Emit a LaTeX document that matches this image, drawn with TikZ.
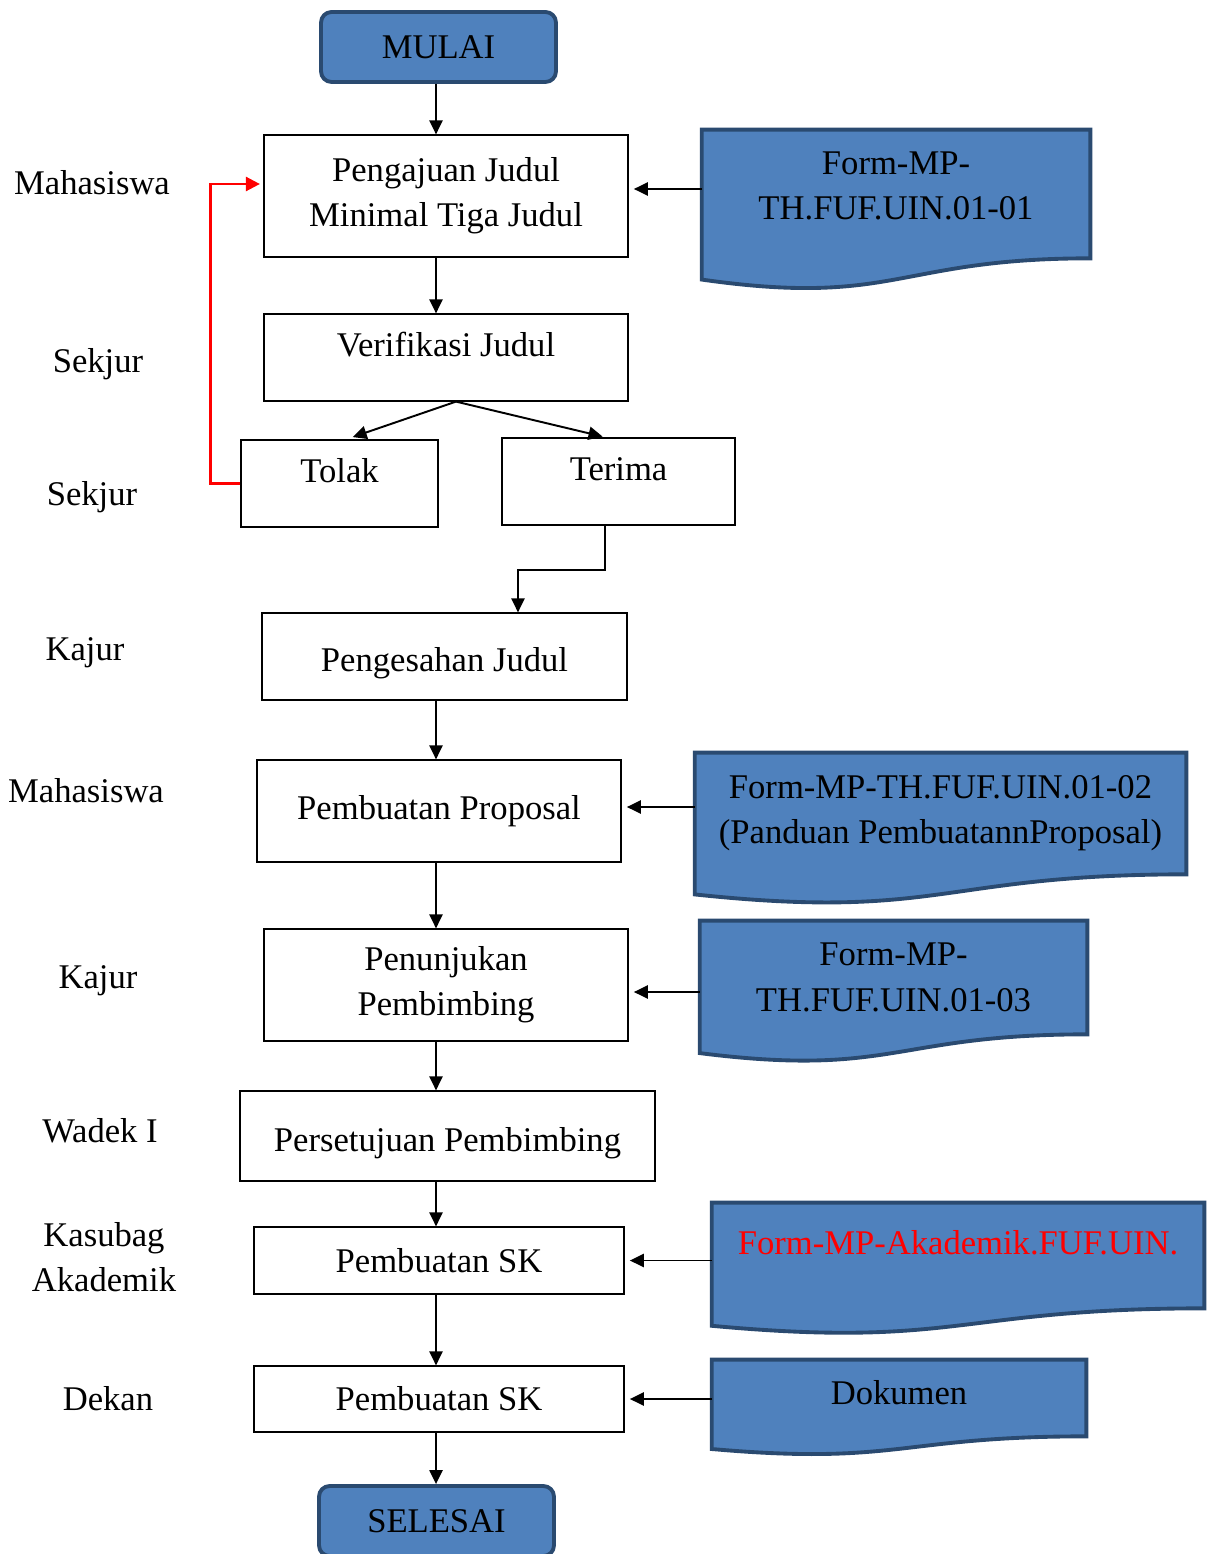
\documentclass[tikz,border=0pt]{standalone}
\usepackage{fontspec}
\setmainfont{Liberation Serif}
\usetikzlibrary{arrows.meta,calc,backgrounds}
\definecolor{docblue}{HTML}{4F81BD}
\definecolor{docedge}{HTML}{2A4A70}

\begin{document}
\begin{tikzpicture}
	[x=0.02cm, y=-0.02cm, every node/.style={font=\fontsize{19.7}{25.8}\selectfont},
	block/.style={rectangle, draw, line width=0.7pt, inner sep=0pt, align=center},
	ends/.style={rectangle, rounded corners=6pt, draw=docedge, fill=docblue, line width=2.2pt, minimum width=4.7cm, minimum height=1.4cm},
	doc/.style={rectangle, inner sep=0pt, align=center},
	docline/.style={draw=docedge, fill=docblue, line width=2.2pt},
	uptext/.style={text height=6.9pt, text depth=7.6pt},
	lowtext/.style={text height=21.5pt, text depth=4.3pt},
	arr/.style={-{Triangle[length=8pt,width=7.5pt]}, line width=1.1pt},
	back/.style={-{Triangle[length=8pt,width=8pt]}, line width=1.4pt, red}]
	\useasboundingbox (0,0) rectangle (1210,1554);
	\coordinate (spine) at (436,0);

	\node[ends] (mulai) at (438.5,47) {MULAI};
	\node[block, minimum width=7.28cm, minimum height=2.44cm] (b1) at (446,196) {Pengajuan Judul\\Minimal Tiga Judul};
	\node[block, uptext, minimum width=7.28cm, minimum height=1.74cm] (b2) at (446,357.5) {Verifikasi Judul};
	\node[block, uptext, minimum width=3.94cm, minimum height=1.74cm] (tolak) at (339.5,483.5) {Tolak};
	\node[block, uptext, minimum width=4.66cm, minimum height=1.74cm] (terima) at (618.5,481.5) {Terima};
	\node[block, lowtext, minimum width=7.30cm, minimum height=1.74cm] (sah) at (444.5,656.5) {Pengesahan Judul};
	\node[block, minimum width=7.28cm, minimum height=2.04cm] (prop) at (439,811) {Pembuatan Proposal};
	\node[block, minimum width=7.28cm, minimum height=2.24cm] (tunjuk) at (446,985) {Penunjukan\\Pembimbing};
	\node[block, lowtext, minimum width=8.30cm, minimum height=1.80cm] (setuju) at (447.5,1136) {Persetujuan Pembimbing};
	\node[block, minimum width=7.40cm, minimum height=1.34cm] (sk1) at (439,1260.5) {Pembuatan SK};
	\node[block, minimum width=7.40cm, minimum height=1.32cm] (sk2) at (439,1399) {Pembuatan SK};
	\node[ends] (selesai) at (436.5,1521) {SELESAI};

	\node[doc, text depth=9.6pt, minimum width=7.76cm, minimum height=2.56cm] (d1) at (896,194) {Form-MP-\\TH.FUF.UIN.01-01};
	\node[doc, minimum width=9.82cm, minimum height=2.42cm] (d2) at (940.5,813.5) {Form-MP-TH.FUF.UIN.01-02\\(Panduan PembuatannProposal)};
	\node[doc, minimum width=7.74cm, minimum height=2.26cm] (d3) at (893.5,977.5) {Form-MP-\\TH.FUF.UIN.01-03};
	\node[doc, uptext, text=red, minimum width=9.84cm, minimum height=2.10cm] (d4) at (958,1255.5) {Form-MP-Akademik.FUF.UIN.};
	\node[doc, text depth=5.8pt, minimum width=7.48cm, minimum height=1.52cm] (d5) at (899,1398) {Dokumen};
	\begin{scope}[on background layer]
		\foreach \d in {d1,d2,d3,d4,d5}
			\draw[docline] (\d.north west) -- (\d.north east) -- (\d.south east) .. controls (\d.south) and ($(\d.north)!1.38!(\d.south)$) .. ($(\d.north west)!1.165!(\d.south west)$) -- cycle;
	\end{scope}

	\node (l1) at (92,183) {Mahasiswa};
	\node (l2) at (98,364) {Sekjur};
	\node (l3) at (92,497) {Sekjur};
	\node (l4) at (85,653) {Kajur};
	\node (l5) at (86,791) {Mahasiswa};
	\node (l6) at (98,981) {Kajur};
	\node (l7) at (100,1131) {Wadek I};
	\node[align=center] (l8) at (104,1257) {Kasubag\\Akademik};
	\node (l9) at (108,1399) {Dekan};

	\draw[arr] (mulai.south -| spine) -- (b1.north -| spine);
	\draw[arr] (b1.south -| spine) -- (b2.north -| spine);
	\draw[arr, shorten >=4pt] ([xshift=0.2cm]b2.south) -- ([xshift=0.13cm]tolak.north);
	\draw[arr, shorten >=2pt] ([xshift=0.2cm]b2.south) -- ([xshift=-0.25cm]terima.north);
	\draw[arr] ([xshift=-0.27cm]terima.south) -- ++(0,44) -| ([xshift=1.47cm]sah.north);
	\draw[arr] (sah.south -| spine) -- (prop.north -| spine);
	\draw[arr] (prop.south -| spine) -- (tunjuk.north -| spine);
	\draw[arr] (tunjuk.south -| spine) -- (setuju.north -| spine);
	\draw[arr] (setuju.south -| spine) -- (sk1.north -| spine);
	\draw[arr] (sk1.south -| spine) -- (sk2.north -| spine);
	\draw[arr] (sk2.south -| spine) -- (selesai.north -| spine);
	\draw[back, shorten >=2pt] (tolak.west) -- ++(-30,0) |- ([yshift=0.24cm]b1.west);

	\draw[arr, shorten >=3pt] ([yshift=0.14cm]d1.west |- b1.east) -- ([yshift=0.14cm]b1.east);
	\draw[arr, shorten >=3pt] ([yshift=0.08cm]d2.west |- prop.east) -- ([yshift=0.08cm]prop.east);
	\draw[arr, shorten >=3pt] ([yshift=-0.14cm]d3.west |- tunjuk.east) -- ([yshift=-0.14cm]tunjuk.east);
	\draw[arr, shorten >=3pt] (d4.west |- sk1.east) -- (sk1.east);
	\draw[arr, shorten >=3pt] (d5.west |- sk2.east) -- (sk2.east);
\end{tikzpicture}
\end{document}
